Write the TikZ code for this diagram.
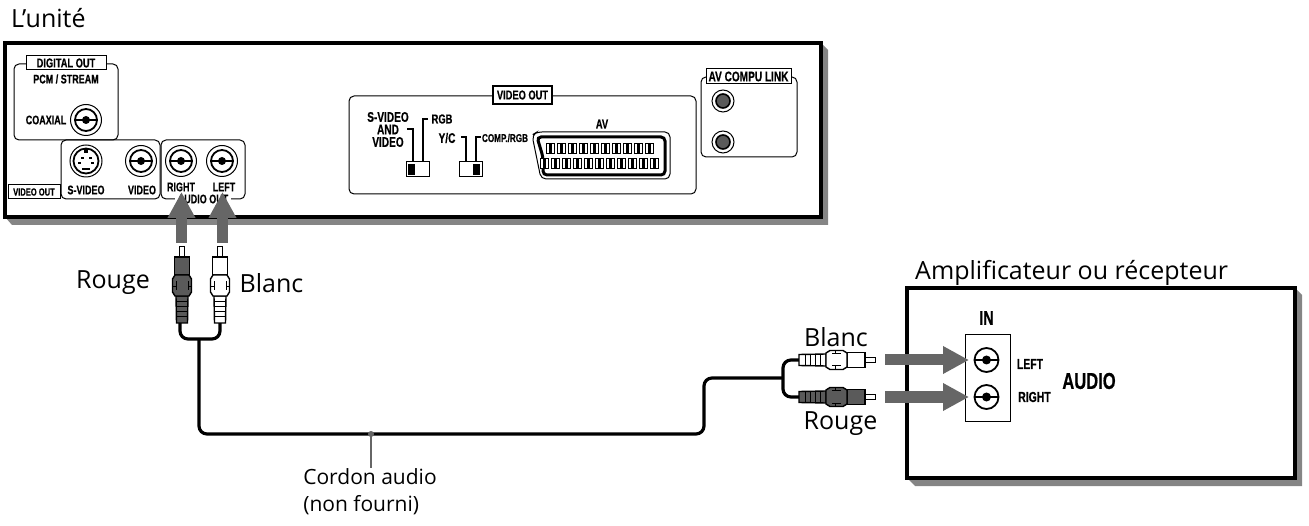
\documentclass[tikz,border=0pt]{standalone}
\usepackage{fontspec}
\setmainfont{Open Sans}
\newfontfamily\condfont[FakeStretch=0.72,BoldFeatures={FakeBold=0.5}]{Liberation Sans}
\usetikzlibrary{arrows.meta}
\definecolor{shade}{HTML}{858585}
\definecolor{arrowgrey}{HTML}{666666}
\definecolor{plugred}{HTML}{5A5A5A}
\newcommand{\condsize}[1]{\condfont\bfseries\fontsize{#1}{12.5}\selectfont}

\begin{document}
\begin{tikzpicture}%
        [x=1pt, y=-1pt,
        case/.style={draw=black, line width=3.2pt, fill=white},
        shadowfill/.style={fill=shade},
        panel/.style={draw=black, line width=1pt, rounded corners=5pt},
        tagbox/.style={draw=black, line width=1pt, fill=white, inner sep=0pt, minimum height=14pt},
        lab/.style={inner sep=0pt, font=\condsize{12.5}, align=center},
        smalllab/.style={inner sep=0pt, font=\condsize{14.5}},
        titletext/.style={inner sep=0pt, font=\fontsize{25}{30}\selectfont},
        cable/.style={draw=black, line width=3.2pt, rounded corners=8pt},
        feed/.style={draw=arrowgrey, line width=11pt, -{Triangle[width=26pt,length=26pt,fill=arrowgrey]}},
        leadline/.style={draw=black, line width=1.8pt},
        leader/.style={draw=arrowgrey, line width=2pt},
        pinbox/.style={draw=black, line width=.6pt, fill=white},
        jack/.pic={
            \draw[line width=1pt] (0,0) circle (15.5);
            \draw[line width=1.8pt] (0,0) circle (11);
            \draw[line width=1.6pt] (-11,0) -- (11,0);
            \fill (0,0) circle (4);},
        jackbare/.pic={
            \draw[line width=1.8pt] (0,0) circle (12);
            \draw[line width=1.6pt] (-12,0) -- (12,0);
            \fill (0,0) circle (4.5);},
        linkjack/.pic={
            \draw[line width=1pt] (0,0) circle (11);
            \draw[line width=1.6pt, fill=plugred] (0,0) circle (7);},
        svideo/.pic={
            \draw[line width=1pt] (0,0) circle (16);
            \draw[line width=1.8pt] (0,0) circle (12.5);
            \fill (-5.5,-3.5) rectangle (-2.5,-1.5);
            \fill (2.5,-3.5) rectangle (5.5,-1.5);
            \fill (-8,1.5) rectangle (-5,3.5);
            \fill (5,1.5) rectangle (8,3.5);
            \fill (-4,7) rectangle (4,9.5);
            \fill (-2,-12) rectangle (2,-8);},
        pics/rcaplug/.style={code={
            \draw[line width=1pt, fill=white] (-2.2,-66) -- (-2.2,-76) -- (2.2,-76) -- (2.2,-66);
            \draw[line width=1.4pt, fill=#1] (-5.5,0) -- (-6,-27) -- (6,-27) -- (5.5,0) -- cycle;
            \foreach \s in {-6,-11,-16,-21}
                \draw[line width=1pt] (-5.5,\s) -- (5.5,\s);
            \draw[line width=1.4pt, fill=#1] (-7.5,-48) -- (-7.5,-66) -- (7.5,-66) -- (7.5,-48) -- cycle;
            \draw[line width=1.4pt, fill=#1] (-7,-27) -- (-9.5,-31) -- (-9.5,-44) -- (-7,-48) -- (7,-48) -- (9.5,-44) -- (9.5,-31) -- (7,-27) -- cycle;
            \draw[line width=1pt] (-6,-33) -- (-6,-42) (6,-33) -- (6,-42) (-9.5,-36) -- (-6,-36) (9.5,-36) -- (6,-36);
        }}]

    \useasboundingbox (0,0) rectangle (1309,526);

    %% Drawing the unit
    \fill[shadowfill] (5,217) -- (12,225) -- (828,225) -- (828,50) -- (821,43) -- cycle;
    \draw[case] (5,43) rectangle (821,217);
    \node[titletext, anchor=base west] (unit) at (11,28) {L’unité};

    %% Left panels
    \draw[panel] (14,64) rectangle (118,140);
    \node[tagbox, minimum width=80pt, font=\condsize{12.9}] (digital) at (66,63) {DIGITAL OUT};
    \node[lab] (stream) at (66,79) {PCM / STREAM};
    \node[lab] (coaxial) at (46,120) {COAXIAL};
    \pic at (86,120) {jack};

    \draw[panel] (61,140) rectangle (160,199);
    \draw[panel] (161,140) rectangle (245,199);
    \node[tagbox, minimum width=52pt, minimum height=14pt, font=\condsize{10.5}] (videotag) at (34,192) {VIDEO OUT};
    \pic at (86,161) {svideo};
    \pic at (141,161) {jack};
    \pic at (181,161) {jack};
    \pic at (222,161) {jack};
    \node[lab] (svid) at (86,190) {S-VIDEO};
    \node[lab] (vid) at (142,190) {VIDEO};
    \node[lab] (right) at (181,187) {RIGHT};
    \node[lab] (left) at (224,187) {LEFT};
    \node[lab, fill=white, inner xsep=3pt] (audioout) at (203,199) {AUDIO OUT};

    %% Video out panel
    \draw[panel] (349,96) rectangle (696,194);
    \node[tagbox, line width=1.4pt, minimum width=59pt, minimum height=18pt, font=\condsize{12.9}] (videoout) at (522.5,95) {VIDEO OUT};
    \node[lab, font=\condsize{14}] (svideoand) at (388,129.5) {S-VIDEO\\AND\\VIDEO};
    \node[lab, font=\condsize{13}] (rgb) at (442,119) {RGB};
    \node[lab, font=\condsize{14}] (yc) at (447,138) {Y/C};
    \node[lab, font=\condsize{11.3}] (comp) at (505,138) {COMP./RGB};
    \node[lab, font=\condsize{13}] (av) at (602,124) {AV};

    %% Switches
    \draw[leadline] (407,129) -- (413,129) -- (413,162);
    \draw[leadline] (428,119) -- (423,119) -- (423,162);
    \draw[leadline] (461,137) -- (466,137) -- (466,162);
    \draw[leadline] (481,137) -- (476,137) -- (476,162);
    \draw[line width=1pt] (406,162) rectangle (429,177);
    \draw[line width=1pt] (459,162) rectangle (482,177);
    \fill (408,164) rectangle (415,175);
    \fill (473,164) rectangle (480,175);

    %% Scart socket
    \draw[line width=1pt, rounded corners=5pt] (532,135) -- (537,132) -- (670,132) -- (670,179) -- (541,179) -- cycle;
    \draw[line width=3pt, rounded corners=4pt] (537,137) -- (543,157) -- (543,175) -- (665,175) -- (665,137) -- cycle;
    \foreach \i in {0,...,9} {
        \draw[pinbox] ({546+11*\i},143) rectangle ++(8,10);
        \fill ({549+11*\i},143) rectangle ++(2.5,10);
    }
    \foreach \i in {0,...,10} {
        \draw[pinbox] ({540+11*\i},158) rectangle ++(8,10);
        \fill ({543+11*\i},158) rectangle ++(2.5,10);
    }

    %% AV compu link
    \draw[panel] (701,77) rectangle (797,157);
    \node[tagbox, minimum width=85pt, minimum height=15pt, font=\condsize{14}] (compulink) at (748.5,76.5) {AV COMPU LINK};
    \pic at (723,101) {linkjack};
    \pic at (723,142) {linkjack};

    %% Drawing the receiver
    \fill[shadowfill] (907,478) -- (915,486) -- (1302,486) -- (1302,295) -- (1295,288) -- cycle;
    \draw[case] (907,288) rectangle (1295,478);
    \node[titletext, anchor=base west] (amp) at (915,280) {Amplificateur ou récepteur};
    \draw[line width=1pt] (965,335) rectangle (1010,421);
    \node[lab, font=\condsize{20}] (in) at (986.5,318) {IN};
    \pic at (986.5,360) {jackbare};
    \pic at (986.5,397) {jackbare};
    \node[smalllab] (rleft) at (1030,364) {LEFT};
    \node[smalllab] (rright) at (1034.5,397) {RIGHT};
    \node[lab, font=\condsize{23}] (audio) at (1089,381) {AUDIO};

    %% Rays for the plugs
    \coordinate (upred) at (181.5,243);
    \coordinate (upwhite) at (222.5,243);
    \coordinate (jackred) at (181.5,192);
    \coordinate (jackwhite) at (222.5,192);
    \coordinate (inwhite) at (885,360);
    \coordinate (inred) at (885,397);
    \coordinate (jackleft) at (969,360);
    \coordinate (jackright) at (969,397);
    \draw[feed] (upred) -- (jackred);
    \draw[feed] (upwhite) -- (jackwhite);
    \draw[feed] (inwhite) -- (jackleft);
    \draw[feed] (inred) -- (jackright);

    %% Cable
    \coordinate (redend) at (180,323);
    \coordinate (whiteend) at (220,323);
    \coordinate (whiteplug) at (799,360);
    \coordinate (redplug) at (799,397);
    \coordinate (forkleft) at (199,339);
    \coordinate (forkright) at (783,378);
    \coordinate (dot) at (371,434);
    \draw[cable] (redend) -- (180,339) -- (220,339) -- (whiteend);
    \draw[cable] (forkleft) -- (199,434) -- (704,434) -- (704,378) -- (forkright);
    \draw[cable] (whiteplug) -- (783,360) -- (783,397) -- (redplug);
    \pic at (182,323) {rcaplug=plugred};
    \pic at (220,323) {rcaplug=white};
    \pic[rotate=-90] at (whiteplug) {rcaplug=white};
    \pic[rotate=-90] at (redplug) {rcaplug=plugred};

    %% Labels
    \node[titletext] (rougeup) at (113,283) {Rouge};
    \node[titletext] (blancup) at (271.5,283) {Blanc};
    \node[titletext] (blancr) at (836,337) {Blanc};
    \node[titletext] (rouger) at (840.5,424) {Rouge};
    \node[titletext, align=left, font=\fontsize{21}{27}\selectfont, anchor=north] (cordon) at (370,468) {Cordon audio\\(non fourni)};
    \fill[arrowgrey] (dot) circle (3);
    \draw[leader] (dot) -- (dot |- cordon.north);
\end{tikzpicture}
\end{document}
